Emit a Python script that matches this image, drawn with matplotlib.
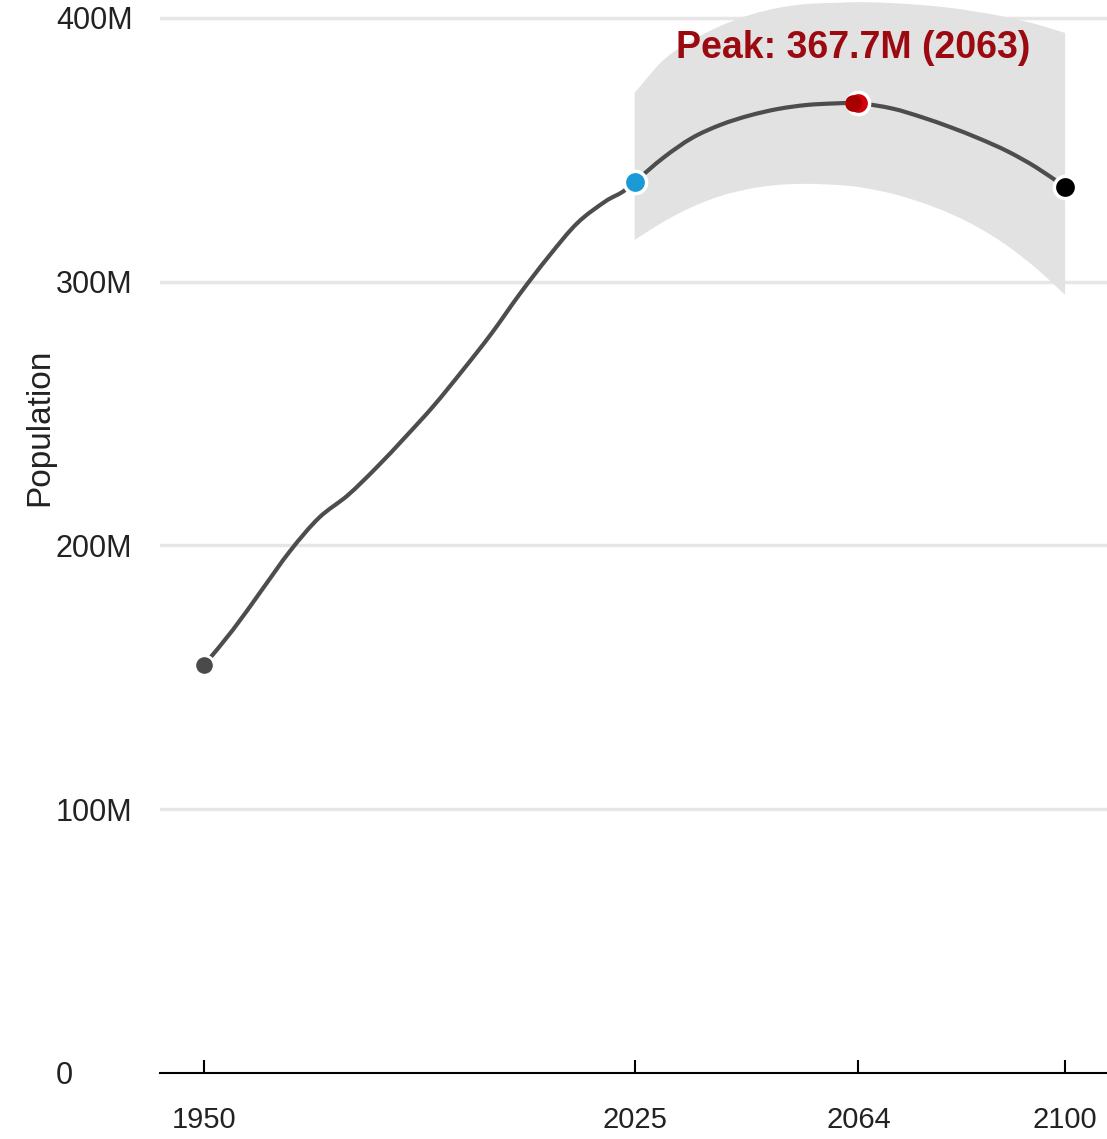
import matplotlib
matplotlib.use("Agg")
import matplotlib.pyplot as plt
import numpy as np
from matplotlib.path import Path
from matplotlib.patches import PathPatch
from matplotlib.ticker import FuncFormatter

plt.rcParams['font.family'] = ['Liberation Sans', 'DejaVu Sans']

# historical estimates (millions)
hist_years = [1950, 1955, 1960, 1965, 1970, 1975, 1980, 1985, 1990, 1995,
              2000, 2005, 2010, 2015, 2020, 2023, 2025]
hist_pop = [154.7, 168.0, 183.0, 198.0, 210.5, 219.0, 229.5, 241.0, 253.0, 266.3,
            280.2, 295.4, 309.5, 322.2, 330.6, 334.2, 337.8]

# projection (millions)
proj_years = [2025, 2030, 2035, 2040, 2045, 2050, 2055, 2060, 2064,
              2070, 2075, 2080, 2085, 2090, 2095, 2100]
proj_pop = [337.8, 347.0, 354.5, 359.5, 363.0, 365.5, 367.0, 367.6, 367.7,
            365.6, 362.4, 358.6, 354.3, 349.4, 343.3, 335.9]

# uncertainty band (millions)
band_years = [2025, 2030, 2035, 2040, 2045, 2050, 2055, 2060, 2064,
              2070, 2075, 2080, 2085, 2090, 2095, 2100]
band_low = [315.8, 322.7, 328.3, 332.5, 335.2, 336.7, 337.1, 336.7, 335.9,
            333.3, 330.0, 325.8, 320.4, 313.5, 305.0, 295.0]
band_high = [371.6, 384.0, 391.5, 397.0, 401.1, 403.8, 405.3, 405.7, 406.0,
             405.6, 404.9, 403.8, 402.2, 400.2, 397.6, 394.3]

peak_year = 2063
peak_pop = 367.7
xtick_years = [1950, 2025, 2064, 2100]
ytick_vals = [0, 100, 200, 300, 400]


def smooth_path(xs, ys):
    # cubic Hermite curve drawn as Bezier segments
    x = np.asarray(xs, float)
    y = np.asarray(ys, float)
    n = len(x)
    m = np.zeros(n)
    m[0] = (y[1] - y[0]) / (x[1] - x[0])
    m[-1] = (y[-1] - y[-2]) / (x[-1] - x[-2])
    for i in range(1, n - 1):
        m[i] = (y[i + 1] - y[i - 1]) / (x[i + 1] - x[i - 1])
    verts = [(x[0], y[0])]
    codes = [Path.MOVETO]
    for i in range(n - 1):
        dx = x[i + 1] - x[i]
        verts += [(x[i] + dx / 3, y[i] + m[i] * dx / 3),
                  (x[i + 1] - dx / 3, y[i + 1] - m[i + 1] * dx / 3),
                  (x[i + 1], y[i + 1])]
        codes += [Path.CURVE4] * 3
    return verts, codes


fig = plt.figure(figsize=(11.07, 11.39), dpi=100)
ax = fig.add_axes([160 / 1107, 66 / 1139, 947 / 1107, 1073 / 1139])

# band: upper edge forward, lower edge backward
v_up, c_up = smooth_path(band_years, band_high)
v_lo, c_lo = smooth_path(band_years[::-1], band_low[::-1])
c_lo[0] = Path.LINETO
band = Path(v_up + v_lo + [v_up[0]], c_up + c_lo + [Path.CLOSEPOLY])
ax.add_patch(PathPatch(band, facecolor='#e2e2e2', edgecolor='none', zorder=1))

for xs, ys in [(hist_years, hist_pop), (proj_years, proj_pop)]:
    v, c = smooth_path(xs, ys)
    ax.add_patch(PathPatch(Path(v, c), facecolor='none', edgecolor='#4d4d4d',
                           lw=3, capstyle='round', zorder=3))

# markers
ax.plot(hist_years[0], hist_pop[0], 'o', ms=14, mfc='#4a4a4a', mec='white', mew=2, zorder=5)
ax.plot(2025, proj_pop[0], 'o', ms=16, mfc='#1a9bd7', mec='white', mew=2.5, zorder=5)
ax.plot(2064, proj_pop[8], 'o', ms=16, mfc='#d0000c', mec='white', mew=2.5, zorder=5)
ax.plot(peak_year, peak_pop, 'o', ms=12, mfc='#a80000', mec='none', zorder=6)
ax.plot(2100, proj_pop[-1], 'o', ms=16, mfc='black', mec='white', mew=2.5, zorder=5)

ax.text(peak_year, peak_pop + 21, f"Peak: {peak_pop}M ({peak_year})",
        ha='center', va='center', fontsize=27, fontweight='bold', color='#9b0a10', zorder=7)

ax.set_xlim(1942.3, 2107.3)
ax.set_ylim(0, 406.8)

ax.set_xticks(xtick_years)
ax.set_yticks(ytick_vals)
ax.yaxis.set_major_formatter(FuncFormatter(lambda v, p: '0' if v == 0 else f'{v:.0f}M'))

ax.tick_params(axis='x', direction='in', length=9.5, width=1.5, color='black',
               labelsize=21, labelcolor='#222222', pad=24)
ax.tick_params(axis='y', length=0, labelsize=22, labelcolor='#222222', pad=75)
for lbl in ax.get_yticklabels():
    lbl.set_ha('left')

for v in ytick_vals[1:]:
    ax.axhline(v, color='#e6e6e6', lw=2.5, zorder=0)

for s in ['top', 'right', 'left']:
    ax.spines[s].set_visible(False)
ax.spines['bottom'].set_linewidth(1.5)
ax.spines['bottom'].set_color('black')

ax.set_ylabel('Population', fontsize=24, color='#222222')
ax.yaxis.label.set_va('center')
ax.yaxis.set_label_coords(-0.127, 0.602)

fig.savefig('out.png', dpi=100, facecolor='white')
